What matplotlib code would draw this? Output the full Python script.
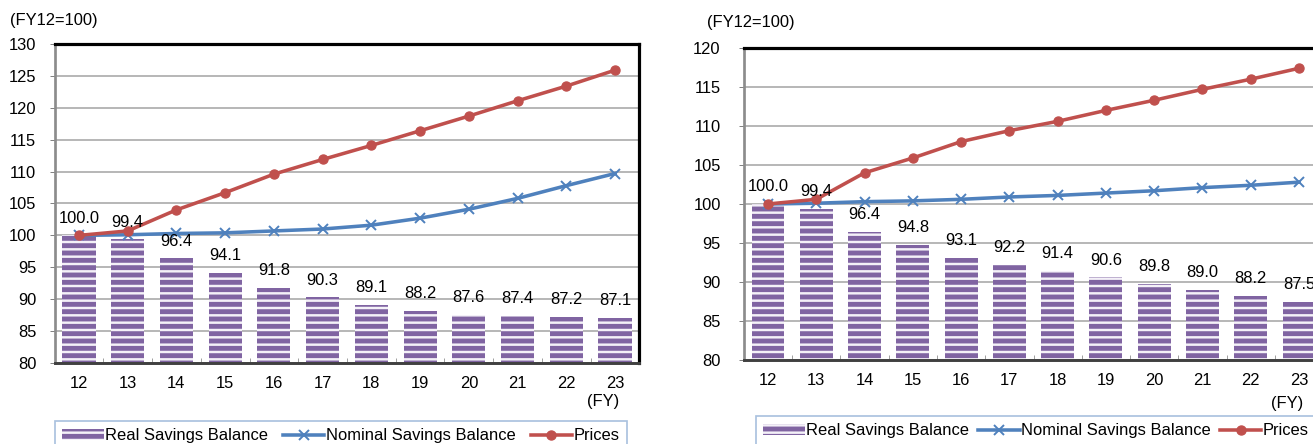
import matplotlib

matplotlib.use("Agg")
import matplotlib.pyplot as plt  # noqa: E402
from matplotlib import transforms  # noqa: E402

# fiscal years on the x axis
years = ["12", "13", "14", "15", "16", "17", "18", "19", "20", "21", "22", "23"]

# left panel (FY12 = 100)
left_real = [100.0, 99.4, 96.4, 94.1, 91.8, 90.3, 89.1, 88.2, 87.6, 87.4, 87.2, 87.1]
left_nominal = [100.0, 100.1, 100.3, 100.4, 100.7, 101.0, 101.6, 102.7, 104.1, 105.8, 107.8, 109.7]
left_prices = [100.0, 100.7, 104.0, 106.7, 109.6, 111.9, 114.1, 116.4, 118.7, 121.1, 123.4, 125.9]

# right panel (FY12 = 100)
right_real = [100.0, 99.4, 96.4, 94.8, 93.1, 92.2, 91.4, 90.6, 89.8, 89.0, 88.2, 87.5]
right_nominal = [100.0, 100.1, 100.3, 100.4, 100.6, 100.9, 101.1, 101.4, 101.7, 102.1, 102.4, 102.8]
right_prices = [100.0, 100.6, 104.0, 105.9, 108.0, 109.4, 110.6, 112.0, 113.3, 114.7, 116.0, 117.4]

series_labels = ["Real Savings Balance", "Nominal Savings Balance", "Prices"]

PURPLE = "#8064A2"
BLUE = "#4F81BD"
RED = "#C0504D"

plt.rcParams.update({
    "font.family": ["Liberation Sans", "DejaVu Sans"],
    "font.size": 13.5,
    "hatch.linewidth": 4.0,
})

DPI = 88
W, H = 1313, 444
fig = plt.figure(figsize=(W / DPI, H / DPI), dpi=DPI)


def px_rect(x0, y0, x1, y1):
    return [x0 / W, 1 - y1 / H, (x1 - x0) / W, (y1 - y0) / H]


def panel(rect, real, nominal, prices, ylim, ypad, fy_pos, note_xy, legend_xy, colsp):
    ax = fig.add_axes(rect)
    x = list(range(len(years)))
    bars = ax.bar(x, real, width=0.68, color="#f4f1f8", edgecolor=PURPLE,
                  linewidth=0, hatch="--", zorder=2)
    (ln_nom,) = ax.plot(x, nominal, color=BLUE, lw=2.9, marker="x", ms=7.5,
                        mew=1.6, zorder=3)
    (ln_pr,) = ax.plot(x, prices, color=RED, lw=2.9, marker="o", ms=7.5, zorder=4)
    for xi, v in zip(x, real):
        ax.annotate(f"{v:.1f}", (xi, v), xytext=(0, 14), textcoords="offset points",
                    ha="center", va="center", zorder=5)

    ax.set_xlim(-0.5, len(years) - 0.5)
    ax.set_ylim(*ylim)
    ax.set_yticks(range(ylim[0], ylim[1] + 1, 5))
    ax.yaxis.grid(True, color="#a6a6a6", lw=1.3)
    ax.set_axisbelow(True)
    ax.tick_params(axis="y", direction="out", length=4, color="#808080", pad=ypad)

    ax.set_xticks(x)
    ax.set_xticklabels(years)
    ax.set_xticks([i + 0.5 for i in x[:-1]], minor=True)
    ax.tick_params(axis="x", which="major", length=0, pad=11)
    ax.tick_params(axis="x", which="minor", direction="in", length=4, color="#808080")

    for side in ("top", "right"):
        ax.spines[side].set_color("black")
        ax.spines[side].set_linewidth(2.6)
    ax.spines["left"].set_color("#8c8c8c")
    ax.spines["left"].set_linewidth(2.2)
    ax.spines["bottom"].set_color("#404040")
    ax.spines["bottom"].set_linewidth(2.4)

    trans = transforms.blended_transform_factory(ax.transData, ax.transAxes)
    ax.text(fy_pos[0], fy_pos[1], "(FY)", transform=trans, ha="center", va="center")
    fig.text(note_xy[0] / W, 1 - note_xy[1] / H, "(FY12=100)", ha="left", va="center")

    leg = ax.legend([bars, ln_nom, ln_pr], series_labels, loc="upper left",
                    bbox_to_anchor=(legend_xy[0] / W, 1 - legend_xy[1] / H),
                    bbox_transform=fig.transFigure, ncol=3, fancybox=False,
                    edgecolor="#95B3D7", handlelength=2.5, handletextpad=0.1,
                    columnspacing=colsp, borderpad=0.45, borderaxespad=0)
    leg.get_frame().set_linewidth(1.4)
    return ax


panel(px_rect(54.6, 44, 639.4, 363), left_real, left_nominal, left_prices,
      (80, 130), 11, (10.75, -0.122), (10, 20), (55, 421), 0.9)
panel(px_rect(743.9, 48, 1323.1, 360), right_real, right_nominal, right_prices,
      (80, 120), 15, (10.75, -0.138), (707, 22), (756, 416), 0.55)

fig.savefig("out.png", dpi=DPI)
